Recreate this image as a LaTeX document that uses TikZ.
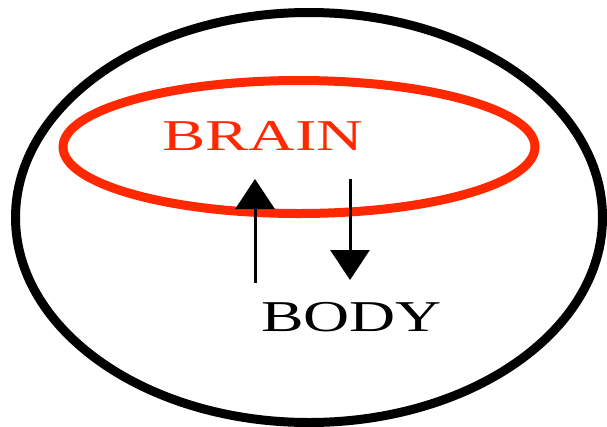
\documentclass[tikz,border=0pt]{standalone}
\usepackage{fontspec}
\setmainfont{Liberation Serif}
\usetikzlibrary{arrows.meta}
\definecolor{brainred}{RGB}{255,40,0}
\tikzset{
  label/.style={font=\fontsize{44}{44}\selectfont, inner sep=0pt, anchor=base west},
  flow/.style={line width=3pt, -{Triangle[length=30pt,width=39pt]}}
}
\begin{document}
\begin{tikzpicture}[x=1pt,y=-1pt]
\useasboundingbox (0,0) rectangle (607,426);
\draw[line width=9pt] (309,217.5) ellipse [x radius=293.5pt, y radius=205pt];
\draw[line width=9pt, brainred] (299,147) ellipse [x radius=236pt, y radius=66.5pt];
\node[label, text=brainred] (brain) at (162,150) {\scalebox{1.47}[1]{BRAIN}};
\node[label] (body) at (261,331.5) {\scalebox{1.45}[1]{BODY}};
\coordinate (upfrom) at (255,283);
\coordinate (upto) at (255,179);
\coordinate (downfrom) at (350,179);
\coordinate (downto) at (350,280);
\draw[flow] (upfrom) -- (upto);
\draw[flow] (downfrom) -- (downto);
\end{tikzpicture}
\end{document}
